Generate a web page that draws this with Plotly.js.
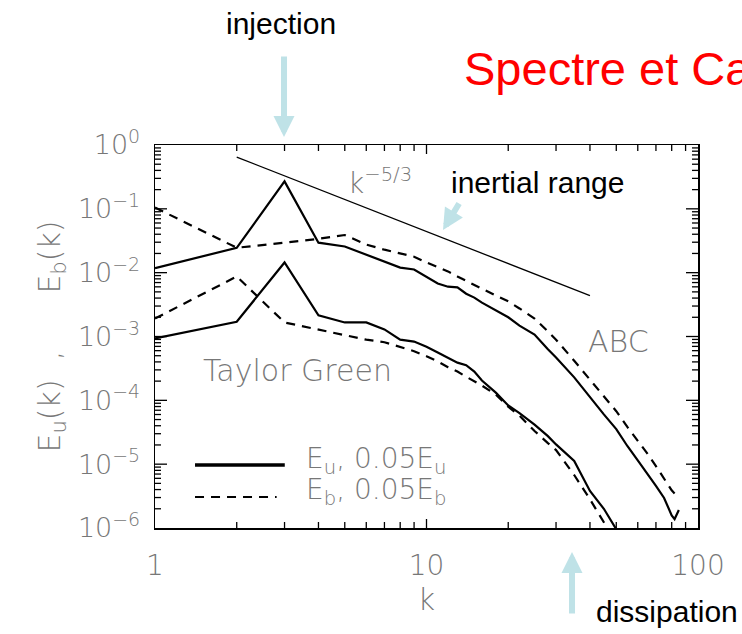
<!DOCTYPE html>
<html>
<head>
<meta charset="utf-8">
<script src="https://cdn.plot.ly/plotly-3.0.1.min.js"></script>
<style>html,body{margin:0;padding:0;background:#fff;}#chart{width:742px;height:634px;}</style>
</head>
<body>
<div id="chart"></div>
<script>
// ---- data ----
const kAbcU = [1,2,3,4,5,6,7,8,9,10,11,12,13,14,15,16,18,20,22,25,28,30,35,40,45,50,55,60,65,70,75,80,82,85];
const eAbcU = [0.01175,0.02455,0.2692,0.02951,0.02570,0.01905,0.01479,0.01202,0.01122,0.00871,0.00676,0.00603,0.00589,0.00468,0.00407,0.00339,0.00257,0.00200,0.00148,0.00107,6.31e-4,4.68e-4,2.29e-4,1.12e-4,6.03e-5,3.55e-5,1.91e-5,1.15e-5,7.24e-6,4.57e-6,2.95e-6,1.58e-6,1.38e-6,1.91e-6];

const kAbcB = [1,2,3,4,5,6,7,8,9,10,11,12,13,14,15,16,18,20,22,25,28,30,35,40,45,50,55,60,65,70,75,80,85];
const eAbcB = [0.1047,0.02455,0.02951,0.03388,0.03890,0.02754,0.02291,0.01995,0.01778,0.01445,0.01230,0.01047,0.00871,0.00741,0.00631,0.00562,0.00437,0.00355,0.00275,0.00191,0.00120,8.91e-4,4.17e-4,2.14e-4,1.15e-4,6.76e-5,3.80e-5,2.34e-5,1.48e-5,9.33e-6,6.03e-6,3.89e-6,2.95e-6];

const kTgU = [1,2,3,4,5,6,7,8,9,10,11,12,13,14,15,16,18,20,22,25,28,30,35,40,45,50,55];
const eTgU = [9.33e-4,1.70e-3,0.01445,2.14e-3,1.66e-3,1.66e-3,1.29e-3,8.91e-4,8.32e-4,6.92e-4,5.62e-4,4.68e-4,3.89e-4,3.55e-4,2.82e-4,2.04e-4,1.32e-4,8.32e-5,6.31e-5,4.17e-5,2.75e-5,2.04e-5,1.12e-5,3.80e-6,2.00e-6,9.55e-7,4.68e-7];

const kTgB = [1,2,3,4,5,6,7,8,9,10,11,12,13,14,15,16,18,20,22,25,28,30,35,40,45,50];
const eTgB = [1.91e-3,8.71e-3,1.66e-3,1.29e-3,1.05e-3,8.91e-4,8.13e-4,6.92e-4,5.89e-4,4.90e-4,4.07e-4,3.31e-4,2.82e-4,2.34e-4,2.00e-4,1.70e-4,1.23e-4,7.94e-5,5.75e-5,3.31e-5,2.14e-5,1.66e-5,6.76e-6,2.82e-6,1.23e-6,5.01e-7];

const kRef = [2, 40];
const eRef = [0.646, 0.00437];

const xTickVals = [1, 10, 100];
const xTickText = ['1', '10', '100'];
const yTickVals = [1e-6, 1e-5, 1e-4, 1e-3, 1e-2, 1e-1, 1];
const yTickText = ['10<sup>\u22126</sup>', '10<sup>\u22125</sup>', '10<sup>\u22124</sup>', '10<sup>\u22123</sup>', '10<sup>\u22122</sup>', '10<sup>\u22121</sup>', '10<sup>0</sup>'];

const legendLabels = ["E<sub>u</sub>, 0.05E<sub>u</sub>", "E<sub>b</sub>, 0.05E<sub>b</sub>"];
const yTitle = "E<sub>u</sub>(k)\u00A0\u00A0,\u00A0\u00A0\u00A0\u00A0\u00A0\u00A0E<sub>b</sub>(k)";

// ---- axis geometry ----
const X_RANGE = [0, 2], Y_RANGE = [-6, 0];
const PLOT_W = 543, PLOT_H = 383;

// ---- tick marks (axis decoration), drawn as one line trace through the axis scales ----
function minorTicks(lo, hi) {
  const out = [];
  for (let p = lo; p < hi; p++) for (let m = 2; m <= 9; m++) out.push(m * Math.pow(10, p));
  return out;
}
const minorX = minorTicks(0, 2);
const minorY = minorTicks(-6, 0);
const majorXInner = [10];
const majorYInner = [1e-5, 1e-4, 1e-3, 1e-2, 1e-1];

const tickX = [], tickY = [];
const yPerPx = (Y_RANGE[1] - Y_RANGE[0]) / PLOT_H;
const xPerPx = (X_RANGE[1] - X_RANGE[0]) / PLOT_W;
function xTick(v, len) {
  tickX.push(v, v, null, v, v, null);
  tickY.push(Math.pow(10, Y_RANGE[0]), Math.pow(10, Y_RANGE[0] + len * yPerPx), null,
             Math.pow(10, Y_RANGE[1]), Math.pow(10, Y_RANGE[1] - len * yPerPx), null);
}
function yTick(v, len) {
  tickY.push(v, v, null, v, v, null);
  tickX.push(Math.pow(10, X_RANGE[0]), Math.pow(10, X_RANGE[0] + len * xPerPx), null,
             Math.pow(10, X_RANGE[1]), Math.pow(10, X_RANGE[1] - len * xPerPx), null);
}
minorX.forEach(function(v) { xTick(v, 6); });
majorXInner.forEach(function(v) { xTick(v, 9); });
minorY.forEach(function(v) { yTick(v, 6); });
majorYInner.forEach(function(v) { yTick(v, 12); });

// ---- styling ----
const gray = '#777777';
const thinFont = {family: 'DejaVu Sans', color: gray, weight: 200};
const solid = {color: '#000', width: 2.2, dash: 'solid'};
const dashed = {color: '#000', width: 2.2, dash: '9px,7px'};

const traces = [
  {x: kAbcU, y: eAbcU, mode: 'lines', line: solid, name: 'ABC Eu', showlegend: false},
  {x: kAbcB, y: eAbcB, mode: 'lines', line: dashed, name: 'ABC Eb', showlegend: false},
  {x: kTgU, y: eTgU, mode: 'lines', line: solid, name: 'TG Eu', showlegend: false},
  {x: kTgB, y: eTgB, mode: 'lines', line: dashed, name: 'TG Eb', showlegend: false},
  {x: kRef, y: eRef, mode: 'lines', line: {color: '#000', width: 1.3}, name: 'k^-5/3', showlegend: false},
  {x: tickX, y: tickY, mode: 'lines', connectgaps: false, line: {color: '#000', width: 1.3}, name: 'ticks', showlegend: false, hoverinfo: 'skip'}
];

const arrowColor = '#bfe2e7';
const legendShapes = [
  {type: 'line', xref: 'paper', yref: 'paper', x0: 0.0737, x1: 0.239, y0: 0.1645, y1: 0.1645, line: {color: '#000', width: 3.5}},
  {type: 'line', xref: 'paper', yref: 'paper', x0: 0.0737, x1: 0.224, y0: 0.081, y1: 0.081, line: {color: '#000', width: 2.2, dash: '9px,7px'}}
];

const layout = {
  width: 742, height: 634,
  margin: {l: 155, r: 44, t: 145, b: 106},
  showlegend: false,
  xaxis: {
    type: 'log', range: X_RANGE, tickmode: 'array', tickvals: xTickVals, ticktext: xTickText,
    showgrid: false, zeroline: false,
    showline: true, linecolor: '#000', linewidth: 1.5, mirror: true,
    ticks: '', tickfont: Object.assign({size: 28}, thinFont),
    ticklabelstandoff: 12,
    title: {text: 'k', font: Object.assign({size: 30}, thinFont), standoff: 4}
  },
  yaxis: {
    type: 'log', range: Y_RANGE, tickmode: 'array', tickvals: yTickVals, ticktext: yTickText,
    showgrid: false, zeroline: false,
    showline: true, linecolor: '#000', linewidth: 1.5, mirror: true,
    ticks: '', tickfont: Object.assign({size: 27}, thinFont),
    ticklabelstandoff: 8,
    title: {text: yTitle, font: Object.assign({size: 30}, thinFont), standoff: 8}
  },
  shapes: legendShapes,
  annotations: [
    {xref: 'paper', yref: 'paper', x: 0.2744, y: 0.175, xanchor: 'left', yanchor: 'middle', text: legendLabels[0], showarrow: false, font: Object.assign({size: 28}, thinFont)},
    {xref: 'paper', yref: 'paper', x: 0.2744, y: 0.094, xanchor: 'left', yanchor: 'middle', text: legendLabels[1], showarrow: false, font: Object.assign({size: 28}, thinFont)},
    {xref: 'paper', yref: 'paper', x: 0.2624, y: 0.4125, xanchor: 'center', yanchor: 'middle', text: 'Taylor Green', showarrow: false, font: Object.assign({size: 30}, thinFont)},
    {xref: 'paper', yref: 'paper', x: 0.8527, y: 0.488, xanchor: 'center', yanchor: 'middle', text: 'ABC', showarrow: false, font: Object.assign({size: 30}, thinFont)},
    {xref: 'paper', yref: 'paper', x: 0.3517, y: 0.905, xanchor: 'left', yanchor: 'middle', text: 'k<sup>\u22125/3</sup>', showarrow: false, font: Object.assign({size: 28}, thinFont)},
    {xref: 'paper', yref: 'paper', x: 0.232, y: 1.316, xanchor: 'center', yanchor: 'middle', text: 'injection', showarrow: false, font: {family: 'Liberation Sans', size: 30, color: '#000'}},
    {xref: 'paper', yref: 'paper', x: 0.566, y: 1.201, xanchor: 'left', yanchor: 'middle', text: 'Spectre et Ca', showarrow: false, font: {family: 'Liberation Sans', size: 47, color: '#ff0000'}},
    {xref: 'paper', yref: 'paper', x: 0.7053, y: 0.9008, xanchor: 'center', yanchor: 'middle', text: 'inertial range', showarrow: false, font: {family: 'Liberation Sans', size: 30, color: '#000'}},
    {xref: 'paper', yref: 'paper', x: 0.943, y: -0.219, xanchor: 'center', yanchor: 'middle', text: 'dissipation', showarrow: false, font: {family: 'Liberation Sans', size: 30, color: '#000'}},
    {xref: 'paper', yref: 'paper', x: 0.2376, y: 1.0209, ax: 0, ay: -82, text: '', showarrow: true, arrowhead: 2, arrowsize: 0.7, arrowwidth: 6, arrowcolor: arrowColor},
    {xref: 'paper', yref: 'paper', x: 0.5304, y: 0.7781, ax: 17, ay: -28, text: '', showarrow: true, arrowhead: 2, arrowsize: 0.7, arrowwidth: 6, arrowcolor: arrowColor},
    {xref: 'paper', yref: 'paper', x: 0.768, y: -0.0627, ax: 0, ay: 63, text: '', showarrow: true, arrowhead: 2, arrowsize: 0.7, arrowwidth: 6, arrowcolor: arrowColor}
  ]
};

Plotly.newPlot('chart', traces, layout, {displayModeBar: false, staticPlot: true});
</script>
</body>
</html>
